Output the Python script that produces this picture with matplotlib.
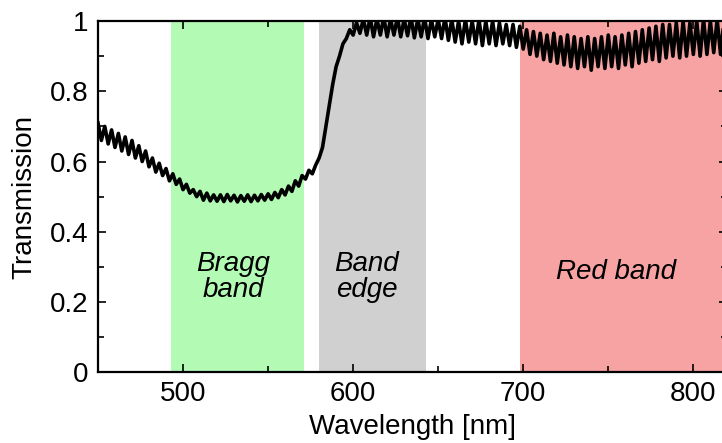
import numpy as np
import matplotlib.pyplot as plt
from matplotlib.ticker import MultipleLocator, FuncFormatter

plt.rcParams["font.family"] = ["Liberation Sans", "DejaVu Sans"]
plt.rcParams["font.size"] = 20

wavelength = [
    450, 452, 454, 456, 458, 460, 462, 464, 466, 468,
    470, 472, 474, 476, 478, 480, 482, 484, 486, 488,
    490, 492, 494, 496, 498, 500, 502, 504, 506, 508,
    510, 512, 514, 516, 518, 520, 522, 524, 526, 528,
    530, 532, 534, 536, 538, 540, 542, 544, 546, 548,
    550, 552, 554, 556, 558, 560, 562, 564, 566, 568,
    570, 572, 574, 576, 578, 580, 582, 584, 586, 588,
    590, 592, 594, 596, 598, 600, 602, 604, 606, 608,
    610, 612, 614, 616, 618, 620, 622, 624, 626, 628,
    630, 632, 634, 636, 638, 640, 642, 644, 646, 648,
    650, 652, 654, 656, 658, 660, 662, 664, 666, 668,
    670, 672, 674, 676, 678, 680, 682, 684, 686, 688,
    690, 692, 694, 696, 698, 700, 702, 704, 706, 708,
    710, 712, 714, 716, 718, 720, 722, 724, 726, 728,
    730, 732, 734, 736, 738, 740, 742, 744, 746, 748,
    750, 752, 754, 756, 758, 760, 762, 764, 766, 768,
    770, 772, 774, 776, 778, 780, 782, 784, 786, 788,
    790, 792, 794, 796, 798, 800, 802, 804, 806, 808,
    810, 812, 814, 816, 818, 820,
]
transmission = [
    0.71, 0.66, 0.70, 0.65, 0.69, 0.64, 0.68, 0.63, 0.67, 0.62,
    0.66, 0.61, 0.645, 0.60, 0.63, 0.585, 0.61, 0.57, 0.595, 0.56,
    0.58, 0.545, 0.565, 0.535, 0.55, 0.52, 0.535, 0.51, 0.52, 0.50,
    0.515, 0.49, 0.51, 0.488, 0.505, 0.487, 0.505, 0.486, 0.506, 0.488,
    0.504, 0.485, 0.503, 0.487, 0.505, 0.486, 0.504, 0.488, 0.506, 0.49,
    0.508, 0.492, 0.512, 0.497, 0.52, 0.505, 0.53, 0.515, 0.545, 0.53,
    0.56, 0.55, 0.575, 0.565, 0.59, 0.61, 0.64, 0.70, 0.76, 0.82,
    0.87, 0.90, 0.935, 0.95, 0.975, 0.96, 0.995, 0.965, 1.005, 0.96,
    1.01, 0.955, 1.005, 0.96, 1.01, 0.955, 1.005, 0.96, 1.01, 0.955,
    1.005, 0.958, 1.01, 0.952, 1.005, 0.955, 1.01, 0.95, 1.005, 0.955,
    1.005, 0.95, 1.01, 0.945, 1.005, 0.94, 1.0, 0.935, 1.005, 0.94,
    1.0, 0.935, 1.005, 0.93, 1.0, 0.935, 1.0, 0.93, 0.995, 0.935,
    0.99, 0.93, 0.99, 0.925, 0.985, 0.92, 0.975, 0.905, 0.97, 0.90,
    0.965, 0.89, 0.96, 0.885, 0.965, 0.88, 0.955, 0.875, 0.96, 0.87,
    0.955, 0.865, 0.95, 0.87, 0.955, 0.86, 0.95, 0.87, 0.955, 0.865,
    0.96, 0.87, 0.955, 0.865, 0.96, 0.875, 0.965, 0.87, 0.97, 0.88,
    0.975, 0.885, 0.98, 0.89, 0.985, 0.885, 0.99, 0.895, 0.99, 0.90,
    0.995, 0.895, 1.0, 0.90, 0.995, 0.905, 1.0, 0.90, 1.005, 0.905,
    1.0, 0.91, 1.005, 0.905, 1.0, 0.91,
]

# shaded regions
band_names = ["Bragg\nband", "Band\nedge", "Red band"]
band_start = [493, 580, 698]
band_end = [571, 643, 830]
band_colors = ["#b3fbb5", "#d0d0d0", "#f8a3a3"]
label_x = [529.5, 608, 754.5]
label_y = [0.27, 0.27, 0.285]

fig = plt.figure(figsize=(7.22, 4.43), dpi=100)
ax = fig.add_axes([0.1357, 0.1596, 0.8717, 0.793])

for s, e, c, name, lx, ly in zip(band_start, band_end, band_colors,
                                 band_names, label_x, label_y):
    ax.axvspan(s, e, color=c, lw=0, zorder=0)
    ax.text(lx, ly, name, style="italic", ha="center", va="center",
            linespacing=1.0, fontsize=20)

ax.plot(wavelength, transmission, color="black", lw=2.6,
        solid_joinstyle="round", zorder=3)

ax.set_xlim(450, 820)
ax.set_ylim(0, 1)
ax.xaxis.set_major_locator(MultipleLocator(100))
ax.xaxis.set_minor_locator(MultipleLocator(50))
ax.yaxis.set_major_locator(MultipleLocator(0.2))
ax.yaxis.set_minor_locator(MultipleLocator(0.1))
ax.yaxis.set_major_formatter(FuncFormatter(lambda v, p: "%g" % round(v, 2)))

ax.tick_params(which="both", direction="in", top=True, right=True, width=1.2)
ax.tick_params(which="major", length=6)
ax.tick_params(which="minor", length=4)
ax.tick_params(axis="y", pad=7)
ax.tick_params(axis="x", pad=6)
for sp in ax.spines.values():
    sp.set_linewidth(1.6)
    sp.set_zorder(5)

ax.set_xlabel("Wavelength [nm]", labelpad=5)
ax.set_ylabel("Transmission", labelpad=9)

fig.savefig("out.png", dpi=100)
